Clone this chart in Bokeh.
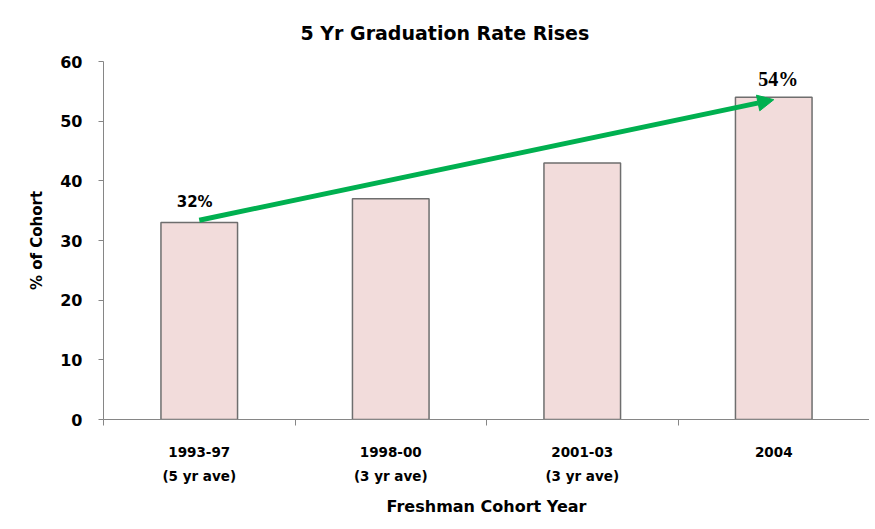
from bokeh.plotting import figure
from bokeh.models import Range1d, FixedTicker, Label, Arrow, NormalHead, ColumnDataSource
from bokeh.embed import file_html
from bokeh.resources import INLINE

# ---- data ----
cohorts = ["1993-97", "1998-00", "2001-03", "2004"]
cohort_notes = ["(5 yr ave)", "(3 yr ave)", "(3 yr ave)", ""]
rates = [33, 37, 43, 54]
y_ticks = [0, 10, 20, 30, 40, 50, 60]
callout_text = ["32%", "54%"]
callout_idx = [0, 3]
trend_start = 33.4
trend_end = 53.6

title_text = "5 Yr Graduation Rate Rises"
x_title = "Freshman Cohort Year"
y_title = "% of Cohort"

GRAY = "#868686"
BOLD = "DejaVu Sans"
INK = "black"

centers = [i + 0.5 for i in range(len(cohorts))]

p = figure(width=869, height=525, output_backend="svg", toolbar_location=None,
           x_range=Range1d(0, len(cohorts)), y_range=Range1d(0, 60),
           min_border_left=103, min_border_right=0, min_border_top=61, min_border_bottom=106,
           title=title_text)
p.outline_line_color = None
p.xgrid.visible = False
p.ygrid.visible = False
p.background_fill_color = "white"
p.border_fill_color = "white"

p.title.align = "left"
p.title.offset = 197
p.title.text_font = BOLD
p.title.text_font_style = "bold"
p.title.text_font_size = "19px"
p.title.text_color = INK
p.title.standoff = 35

src = ColumnDataSource(dict(x=centers, top=rates))
p.vbar(x="x", top="top", width=0.40, bottom=0, source=src,
       fill_color="#F2DCDB", line_color="#6E6E6E", line_width=1.5)

# x axis
xa = p.xaxis[0]
xa.ticker = FixedTicker(ticks=centers, minor_ticks=list(range(len(cohorts) + 1)))
xa.major_label_overrides = {c: (n + "\n" + s if s else n) for c, n, s in zip(centers, cohorts, cohort_notes)}
xa.major_tick_out = 0
xa.major_tick_in = 0
xa.minor_tick_out = 6
xa.minor_tick_in = 0
xa.minor_tick_line_color = GRAY
xa.axis_line_color = GRAY
xa.major_label_text_font = BOLD
xa.major_label_text_font_style = "bold"
xa.major_label_text_font_size = "13.5px"
xa.major_label_text_color = INK
xa.major_label_text_line_height = 1.5
xa.major_label_standoff = 18
xa.axis_label = x_title
xa.axis_label_text_font = BOLD
xa.axis_label_text_font_style = "bold"
xa.axis_label_text_font_size = "16px"
xa.axis_label_text_color = INK
xa.axis_label_standoff = 10

# y axis
ya = p.yaxis[0]
ya.ticker = FixedTicker(ticks=y_ticks)
ya.minor_tick_line_color = None
ya.major_tick_out = 5
ya.major_tick_in = 0
ya.major_tick_line_color = GRAY
ya.axis_line_color = GRAY
ya.major_label_text_font = BOLD
ya.major_label_text_font_style = "bold"
ya.major_label_text_font_size = "16px"
ya.major_label_text_color = INK
ya.major_label_standoff = 16
ya.axis_label = y_title
ya.axis_label_text_font = BOLD
ya.axis_label_text_font_style = "bold"
ya.axis_label_text_font_size = "15px"
ya.axis_label_text_color = INK
ya.axis_label_standoff = 11

# callouts
p.add_layout(Label(x=centers[callout_idx[0]] - 0.024, y=36.4, text=callout_text[0],
                   text_align="center", text_baseline="middle", text_color=INK,
                   text_font=BOLD, text_font_style="bold", text_font_size="15px"))
p.add_layout(Label(x=centers[callout_idx[1]] + 0.024, y=57.0, text=callout_text[1],
                   text_align="center", text_baseline="middle", text_color=INK,
                   text_font="Liberation Serif", text_font_style="bold", text_font_size="20px"))

# trend arrow
p.add_layout(Arrow(x_start=centers[callout_idx[0]], y_start=trend_start,
                   x_end=centers[callout_idx[1]], y_end=trend_end,
                   line_color="#00B050", line_width=5,
                   end=NormalHead(size=16, fill_color="#00B050", line_color="#00B050")))

open("out.html", "w").write(file_html(p, INLINE))
